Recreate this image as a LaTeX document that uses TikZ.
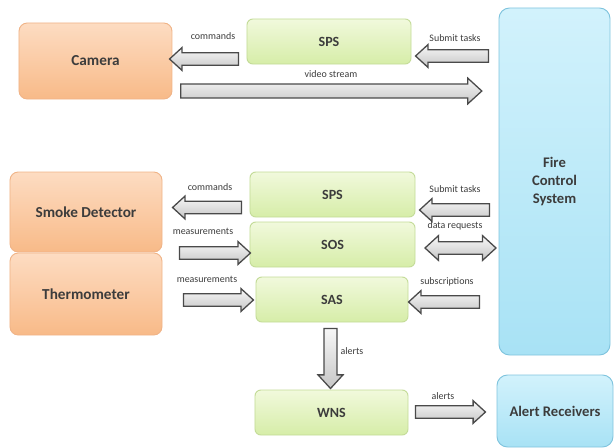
\documentclass[tikz,border=0pt]{standalone}
\usepackage{fontspec}
\setmainfont{Carlito}
\usetikzlibrary{shapes.arrows}
\usetikzlibrary{positioning}

\definecolor{txtgray}{HTML}{3C3C3C}
\definecolor{orangetop}{HTML}{FDDCC2}
\definecolor{orangebot}{HTML}{F8BA88}
\definecolor{orangeline}{HTML}{F0B488}
\definecolor{greentop}{HTML}{F1F9DC}
\definecolor{greenbot}{HTML}{D6EDA8}
\definecolor{greenline}{HTML}{C3DB97}
\definecolor{bluetop}{HTML}{D2F2FC}
\definecolor{bluebot}{HTML}{A8E2F5}
\definecolor{blueline}{HTML}{80C4DE}
\definecolor{arrowline}{HTML}{4A4A4A}

\tikzset{
  device/.style={rectangle, rounded corners=7pt, draw=orangeline, line width=0.8pt, top color=orangetop, bottom color=orangebot, text=txtgray, font=\fontsize{13}{15}\selectfont\bfseries},
  service/.style={rectangle, rounded corners=5pt, draw=greenline, line width=0.8pt, top color=greentop, bottom color=greenbot, text=txtgray, font=\fontsize{12}{14}\selectfont\bfseries},
  client/.style={rectangle, rounded corners=9pt, draw=blueline, line width=0.8pt, top color=bluetop, bottom color=bluebot, text=txtgray, font=\fontsize{12.5}{15}\selectfont\bfseries, align=center},
  fat/.style={single arrow, draw=arrowline, line width=1.1pt, top color=gray!6, bottom color=gray!45, inner sep=0.17cm, minimum width=0.66cm, single arrow head extend=0.15cm, single arrow tip angle=85},
  fatboth/.style={double arrow, draw=arrowline, line width=1.1pt, top color=gray!6, bottom color=gray!45, inner sep=0.17cm, minimum width=0.72cm, double arrow head extend=0.18cm, double arrow tip angle=85},
  lbl/.style={text=txtgray, font=\fontsize{8.5}{10}\selectfont, inner sep=1pt}
}

\begin{document}
\begin{tikzpicture}[x=0.03cm, y=-0.03cm]
  \useasboundingbox (0,0) rectangle (614,448);

  % boxes
  \node (camera) [device, minimum width=4.59cm, minimum height=2.28cm] at (95.5,61) {Camera};
  \node (sps1) [service, minimum width=4.92cm, minimum height=1.35cm] at (329,41.5) {SPS};
  \node (fcs) [client, minimum width=3.33cm, minimum height=10.41cm] at (554.5,181.5) {Fire\\Control\\System};

  \node (smoke) [device, minimum width=4.56cm, minimum height=2.4cm] at (86,212) {Smoke Detector};
  \node (thermo) [device, minimum width=4.56cm, minimum height=2.46cm] at (86,294) {Thermometer};

  \node (sps2) [service, minimum width=4.95cm, minimum height=1.35cm] at (332.5,194.5) {SPS};
  \node (sos) [service, minimum width=4.95cm, minimum height=1.35cm] at (332.5,244.5) {SOS};
  \node (sas) [service, minimum width=4.56cm, minimum height=1.35cm] at (332,299.5) {SAS};

  \node (wns) [service, minimum width=4.59cm, minimum height=1.35cm] at (331.5,412.5) {WNS};
  \node (receivers) [client, minimum width=3.48cm, minimum height=2.16cm] at (555,411) {Alert Receivers};

  % block arrows
  \node (cmd1) [fat, shape border rotate=180, minimum height=2.07cm] at (207.5,59) {};
  \node (submit1) [fat, shape border rotate=180, minimum height=2.19cm] at (455.5,56) {};
  \node (video) [fat, minimum height=9.03cm, minimum width=0.74cm, inner sep=0.19cm, single arrow head extend=0.18cm] at (327.5,91) {};

  \node (cmd2) [fat, shape border rotate=180, minimum height=2.07cm] at (210.5,207.5) {};
  \node (meas1) [fat, minimum height=2.13cm] at (211.5,253) {};
  \node (meas2) [fat, minimum height=2.1cm] at (215,300) {};

  \node (submit2) [fat, shape border rotate=180, minimum height=2.1cm] at (458,210) {};
  \node (datareq) [fatboth, minimum height=2.13cm] at (460.5,248) {};
  \node (subscr) [fat, shape border rotate=180, minimum height=2.13cm] at (447.5,302) {};

  \node (alert1) [fat, shape border rotate=270, minimum height=1.8cm, minimum width=0.75cm, single arrow head extend=0.18cm] at (330.5,355) {};
  \node (alert2) [fat, minimum height=2.1cm] at (447,412) {};

  % labels
  \node [lbl] at (213,36) {commands};
  \node [lbl] at (455,38) {Submit tasks};
  \node [lbl] at (331,74) {video stream};
  \node [lbl] at (210,187) {commands};
  \node [lbl] at (203,231) {measurements};
  \node [lbl] at (207,279) {measurements};
  \node [lbl] at (455,189) {Submit tasks};
  \node [lbl] at (455,226) {data requests};
  \node [lbl] at (447,282) {subscriptions};
  \node [lbl] at (352,351) {alerts};
  \node [lbl] at (443,396) {alerts};
\end{tikzpicture}
\end{document}
